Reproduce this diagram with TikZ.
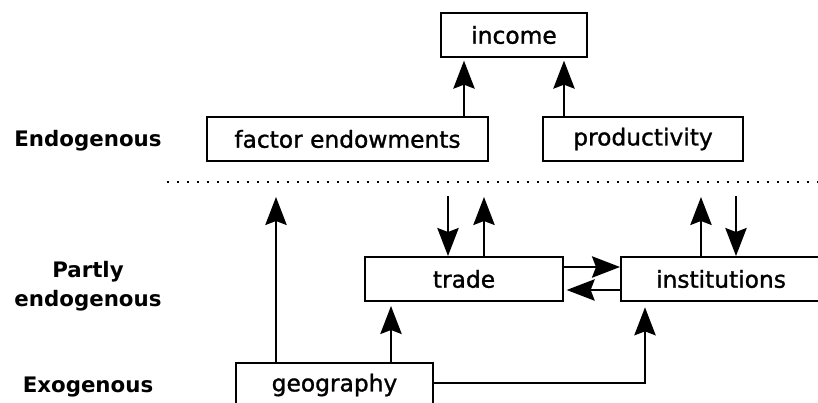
\documentclass[tikz,border=0pt]{standalone}
\usepackage{fontspec}
\setmainfont{DejaVu Sans}
\newfontfamily\boxfont{DejaVu Sans}[FakeBold=1.2]
\usetikzlibrary{arrows.meta}
\begin{document}
\begin{tikzpicture}[x=0.75pt,y=-0.75pt,
  box/.style={draw,line width=1.5pt,inner sep=0pt,minimum height=33pt,font=\boxfont\fontsize{17.5}{21}\selectfont},
  lvl/.style={font=\fontsize{16}{21.75}\selectfont\bfseries,align=center,inner sep=0pt},
  arr/.style={line width=1.6pt,-{Stealth[length=21pt,width=16pt,inset=3pt]}},
  divider/.style={line width=1.5pt,dash pattern=on 1.5pt off 6pt},
]
\useasboundingbox (0,0) rectangle (818,403);
% boxes
\node[box,minimum width=109.5pt] (income) at (514,35) {income};
\node[box,minimum width=210.75pt] (factor) at (347.5,139) {factor endowments};
\node[box,minimum width=150pt] (prod) at (643,139) {productivity};
\node[box,minimum width=148.5pt] (trade) at (464,279) {trade};
\node[box,minimum width=150pt] (inst) at (721,279) {institutions};
\node[box,minimum width=147.75pt] (geo) at (334.5,385) {geography};
% level labels
\node[lvl] (lendo) at (88,141) {Endogenous};
\node[lvl] (lpart) at (88,286) {Partly\\endogenous};
\node[lvl] (lexo) at (88,387) {Exogenous};
% divider
\coordinate (dl) at (167,182);
\coordinate (dr) at (818,182);
\draw[divider] (dl) -- (dr);
% free ends near the divider
\coordinate (gf) at (276,197);
\coordinate (tin) at (448,196);
\coordinate (tout) at (484,197);
\coordinate (iout) at (701,197);
\coordinate (iin) at (736,196);
% connectors
\draw[arr,shorten >=2pt] (464,0 |- factor.north) -- (464,0 |- income.south);
\draw[arr,shorten >=2pt] (564,0 |- prod.north) -- (564,0 |- income.south);
\draw[arr] (gf |- geo.north) -- (gf);
\draw[arr] (tin) -- (tin |- trade.north);
\draw[arr] (tout |- trade.north) -- (tout);
\draw[arr] (iout |- inst.north) -- (iout);
\draw[arr] (iin) -- (iin |- inst.north);
\draw[arr] (trade.east |- 0,267) -- (inst.west |- 0,267);
\draw[arr,shorten >=2pt] (inst.west |- 0,290) -- (trade.east |- 0,290);
\draw[arr,shorten >=3pt] (391,0 |- geo.north) -- (391,0 |- trade.south);
\draw[arr,shorten >=4pt] (geo.east |- 0,383) -| (645,0 |- inst.south);
\end{tikzpicture}
\end{document}
